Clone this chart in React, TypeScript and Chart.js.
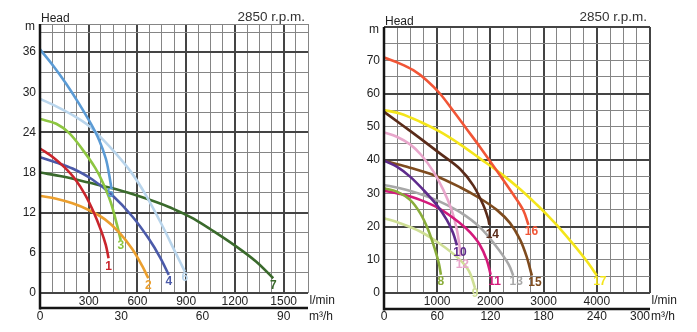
import React, { useEffect, useRef } from 'react';
import { Chart, registerables } from 'chart.js';

Chart.register(...registerables);

const FONT = '"Liberation Sans", Arial, sans-serif';

// ===================== LEFT CHART =====================
const LEFT_Q_MAX = 1650; // l/min
const LEFT_Q_STEP = 75;
const LEFT_Q_MAJOR = 300;
const LEFT_H_MAX = 40.2; // m
const LEFT_H_STEP = 3;
const LEFT_H_MAJOR = 12;
const LEFT_Q_LABELS = [300, 600, 900, 1200, 1500];
const LEFT_H_LABELS = [0, 6, 12, 18, 24, 30, 36];
const LEFT_M3H_MAX = 99;
const LEFT_M3H_LABELS = [0, 30, 60, 90];

const C1_Q = [0, 80, 150, 220, 280, 330, 375, 405, 422];
const C1_H = [21.6, 20.3, 18.8, 16.9, 14.6, 12.1, 9.4, 7.2, 5.2];
const C2_Q = [0, 100, 200, 300, 400, 490, 570, 630, 667];
const C2_H = [14.5, 14.1, 13.4, 12.4, 11.0, 9.0, 6.5, 4.0, 2.2];
const C3_Q = [0, 100, 180, 260, 340, 385, 435, 475, 497];
const C3_H = [26.0, 25.3, 23.9, 21.5, 18.7, 16.6, 13.6, 10.1, 7.9];
const C4_Q = [0, 100, 200, 320, 445, 570, 670, 740, 793];
const C4_H = [20.3, 19.5, 18.6, 17.0, 14.6, 11.4, 8.1, 5.3, 2.7];
const C5_Q = [0, 80, 160, 240, 313, 365, 405, 425, 440];
const C5_H = [36.4, 34.0, 31.3, 28.3, 25.3, 22.8, 20.1, 17.8, 15.6];
const C6_Q = [0, 100, 200, 300, 385, 465, 560, 650, 750, 835, 892];
const C6_H = [29.0, 27.9, 26.6, 25.0, 23.0, 20.9, 18.1, 14.7, 10.2, 6.0, 3.2];
const C7_Q = [0, 140, 300, 470, 630, 790, 880, 960, 1045, 1205, 1330, 1436];
const C7_H = [18.0, 17.4, 16.5, 15.5, 14.3, 12.9, 11.9, 10.9, 9.6, 7.0, 4.7, 2.2];

const LEFT_NAMES = ['1', '2', '3', '4', '5', '6', '7'];
const LEFT_COLORS = ['#c9252c', '#eb9f2e', '#8dc641', '#4b5aa9', '#5b9bd5', '#b9d5ec', '#3a6a2c'];

// ===================== RIGHT CHART =====================
const RIGHT_Q_MAX = 5000;
const RIGHT_Q_STEP = 250;
const RIGHT_Q_MAJOR = 1000;
const RIGHT_H_MAX = 80;
const RIGHT_H_STEP = 5;
const RIGHT_H_MAJOR = 20;
const RIGHT_Q_LABELS = [1000, 2000, 3000, 4000];
const RIGHT_H_LABELS = [0, 10, 20, 30, 40, 50, 60, 70];
const RIGHT_M3H_MAX = 300;
const RIGHT_M3H_LABELS = [0, 60, 120, 180, 240, 300];

const C8_Q = [0, 240, 490, 680, 830, 960, 1030, 1070];
const C8_H = [31.5, 30.5, 28.0, 24.0, 19.0, 13.0, 9.0, 5.5];
const C9_Q = [0, 300, 680, 1050, 1400, 1600, 1711];
const C9_H = [22.5, 21.0, 18.5, 14.8, 10.4, 6.5, 1.5];
const C10_Q = [0, 240, 490, 740, 990, 1180, 1300, 1370];
const C10_H = [39.8, 38.0, 35.0, 31.0, 26.5, 22.0, 18.0, 14.3];
const C11_Q = [0, 300, 680, 1050, 1430, 1620, 1800, 1930, 2005];
const C11_H = [30.8, 29.8, 28.0, 25.3, 21.0, 18.2, 14.5, 10.0, 5.5];
const C12_Q = [0, 240, 490, 700, 930, 1115, 1270, 1370, 1420, 1435];
const C12_H = [48.3, 47.0, 44.7, 41.5, 36.5, 31.0, 25.0, 19.0, 14.0, 11.0];
const C13_Q = [0, 300, 680, 1050, 1430, 1800, 2100, 2340, 2430];
const C13_H = [32.5, 31.5, 29.8, 27.5, 24.3, 19.8, 14.2, 8.7, 5.2];
const C14_Q = [0, 300, 680, 1050, 1430, 1680, 1870, 1960, 1980];
const C14_H = [54.5, 51.0, 46.5, 42.0, 37.3, 32.3, 26.3, 22.2, 20.5];
const C15_Q = [0, 430, 930, 1430, 1800, 2120, 2370, 2560, 2680, 2780];
const C15_H = [39.8, 38.0, 35.5, 31.8, 28.5, 25.0, 21.0, 16.0, 11.0, 5.2];
const C16_Q = [0, 300, 550, 800, 1050, 1300, 1550, 1800, 2180, 2430, 2620, 2715];
const C16_H = [70.8, 69.0, 67.0, 64.0, 60.0, 54.8, 49.4, 44.0, 35.4, 29.6, 24.8, 20.5];
const C17_Q = [0, 300, 680, 1050, 1430, 1800, 2200, 2560, 2870, 3120, 3250, 3560, 3810, 4000];
const C17_H = [55.0, 54.0, 51.5, 48.5, 44.7, 40.5, 35.9, 31.2, 26.6, 22.6, 20.4, 14.6, 9.6, 5.3];

const RIGHT_NAMES = ['8', '9', '10', '11', '12', '13', '14', '15', '16', '17'];
const RIGHT_COLORS = ['#8aad3b', '#cfdf95', '#5e2b8c', '#d41a7b', '#e8a6cb', '#a8a8a8', '#5a2b19', '#7e4b1e', '#f15536', '#f4e51a'];

type Series = { name: string; q: number[]; h: number[]; color: string; dx: number; dy: number };

type Spec = {
  width: number;
  height: number;
  padTop: number;
  padRight: number;
  padBottom: number;
  yWidth: number;
  qMax: number; qStep: number; qMajor: number; qLabels: number[];
  hMax: number; hStep: number; hMajor: number; hLabels: number[];
  m3hMax: number; m3hLabels: number[];
  axisGap: number;
  series: Series[];
};

const LEFT_SPEC: Spec = {
  width: 345, height: 332, padTop: 24, padRight: 37, padBottom: 24, yWidth: 40,
  qMax: LEFT_Q_MAX, qStep: LEFT_Q_STEP, qMajor: LEFT_Q_MAJOR, qLabels: LEFT_Q_LABELS,
  hMax: LEFT_H_MAX, hStep: LEFT_H_STEP, hMajor: LEFT_H_MAJOR, hLabels: LEFT_H_LABELS,
  m3hMax: LEFT_M3H_MAX, m3hLabels: LEFT_M3H_LABELS,
  axisGap: 15,
  series: [
    { name: LEFT_NAMES[0], q: C1_Q, h: C1_H, color: LEFT_COLORS[0], dx: 0, dy: 8 },
    { name: LEFT_NAMES[1], q: C2_Q, h: C2_H, color: LEFT_COLORS[1], dx: 0, dy: 7 },
    { name: LEFT_NAMES[2], q: C3_Q, h: C3_H, color: LEFT_COLORS[2], dx: 0, dy: 6 },
    { name: LEFT_NAMES[3], q: C4_Q, h: C4_H, color: LEFT_COLORS[3], dx: 0, dy: 7 },
    { name: LEFT_NAMES[4], q: C5_Q, h: C5_H, color: LEFT_COLORS[4], dx: -1, dy: 5 },
    { name: LEFT_NAMES[5], q: C6_Q, h: C6_H, color: LEFT_COLORS[5], dx: 0, dy: 6 },
    { name: LEFT_NAMES[6], q: C7_Q, h: C7_H, color: LEFT_COLORS[6], dx: 0, dy: 7 },
  ],
};

const RIGHT_SPEC: Spec = {
  width: 352, height: 332, padTop: 27, padRight: 47, padBottom: 24, yWidth: 39,
  qMax: RIGHT_Q_MAX, qStep: RIGHT_Q_STEP, qMajor: RIGHT_Q_MAJOR, qLabels: RIGHT_Q_LABELS,
  hMax: RIGHT_H_MAX, hStep: RIGHT_H_STEP, hMajor: RIGHT_H_MAJOR, hLabels: RIGHT_H_LABELS,
  m3hMax: RIGHT_M3H_MAX, m3hLabels: RIGHT_M3H_LABELS,
  axisGap: 16,
  series: [
    { name: RIGHT_NAMES[0], q: C8_Q, h: C8_H, color: RIGHT_COLORS[0], dx: 0, dy: 7 },
    { name: RIGHT_NAMES[1], q: C9_Q, h: C9_H, color: RIGHT_COLORS[1], dx: 0, dy: 6 },
    { name: RIGHT_NAMES[2], q: C10_Q, h: C10_H, color: RIGHT_COLORS[2], dx: 3, dy: 7 },
    { name: RIGHT_NAMES[3], q: C11_Q, h: C11_H, color: RIGHT_COLORS[3], dx: 4, dy: 7 },
    { name: RIGHT_NAMES[4], q: C12_Q, h: C12_H, color: RIGHT_COLORS[4], dx: 2, dy: 8 },
    { name: RIGHT_NAMES[5], q: C13_Q, h: C13_H, color: RIGHT_COLORS[5], dx: 3, dy: 6 },
    { name: RIGHT_NAMES[6], q: C14_Q, h: C14_H, color: RIGHT_COLORS[6], dx: 3, dy: 10 },
    { name: RIGHT_NAMES[7], q: C15_Q, h: C15_H, color: RIGHT_COLORS[7], dx: 3, dy: 7 },
    { name: RIGHT_NAMES[8], q: C16_Q, h: C16_H, color: RIGHT_COLORS[8], dx: 3, dy: 7 },
    { name: RIGHT_NAMES[9], q: C17_Q, h: C17_H, color: RIGHT_COLORS[9], dx: 3, dy: 6 },
  ],
};

function gridValues(step: number, max: number): number[] {
  const out: number[] = [];
  for (let i = 0; i * step <= max + 1e-9; i++) out.push(Math.round(i * step * 1000) / 1000);
  if (out[out.length - 1] < max - 1e-6) out.push(max);
  return out;
}

function isMajor(v: number, major: number) {
  const r = Math.abs(v / major - Math.round(v / major));
  return r < 1e-6;
}

function makeDecor(spec: Spec) {
  return {
    id: 'decor',
    afterDraw(chart: any) {
      const { ctx, chartArea: a } = chart;
      const x2 = chart.scales.x2;
      ctx.save();
      // axes lines
      ctx.strokeStyle = '#151515';
      ctx.lineWidth = 2.5;
      ctx.beginPath();
      ctx.moveTo(a.left, a.top);
      ctx.lineTo(a.left, a.bottom + spec.axisGap + 1.5);
      ctx.stroke();
      ctx.beginPath();
      ctx.moveTo(a.left, a.bottom + spec.axisGap);
      ctx.lineTo(a.right, a.bottom + spec.axisGap);
      ctx.stroke();

      ctx.fillStyle = '#222';
      ctx.textBaseline = 'middle';
      ctx.font = `12px ${FONT}`;
      // m3/h labels
      for (const v of spec.m3hLabels) {
        let x = x2.getPixelForValue(v);
        const t = String(v);
        const w = ctx.measureText(t).width;
        if (x + w / 2 > a.right) {
          ctx.textAlign = 'right';
          x = a.right;
        } else {
          ctx.textAlign = 'center';
        }
        ctx.fillText(t, x, a.bottom + 23.5);
      }
      ctx.textAlign = 'left';
      ctx.fillText('l/min', a.right + 1.5, a.bottom + 7.5);
      ctx.fillText('m³/h', a.right + 1, a.bottom + 23.5);
      ctx.fillText('Head', a.left + 1, a.top - 5);
      ctx.textAlign = 'right';
      ctx.fillText('m', a.left - 5, a.top + 3);
      ctx.font = `13.5px ${FONT}`;
      ctx.fillStyle = '#333';
      ctx.fillText('2850 r.p.m.', a.right - 3, 17);

      // curve labels
      ctx.font = `bold 12px ${FONT}`;
      ctx.textAlign = 'center';
      spec.series.forEach((s, i) => {
        const meta = chart.getDatasetMeta(i);
        const last = meta.data[meta.data.length - 1];
        if (!last) return;
        ctx.fillStyle = s.color;
        ctx.fillText(s.name, last.x + s.dx, last.y + s.dy);
      });
      ctx.restore();
    },
  };
}

function buildConfig(spec: Spec): any {
  const xTicks = gridValues(spec.qStep, spec.qMax);
  const yTicks = gridValues(spec.hStep, spec.hMax);
  return {
    type: 'line',
    data: {
      datasets: spec.series.map((s) => ({
        label: s.name,
        data: s.q.map((q, i) => ({ x: q, y: s.h[i] })),
        borderColor: s.color,
        backgroundColor: s.color,
        borderWidth: 2.6,
        pointRadius: 0,
        pointHoverRadius: 0,
        fill: false,
        tension: 0.35,
        xAxisID: 'x',
        yAxisID: 'y',
      })),
    },
    options: {
      responsive: false,
      maintainAspectRatio: false,
      animation: false,
      events: [],
      layout: { padding: { left: 0, top: spec.padTop, right: spec.padRight, bottom: spec.padBottom } },
      plugins: { legend: { display: false }, tooltip: { enabled: false }, title: { display: false } },
      scales: {
        x: {
          type: 'linear',
          position: 'bottom',
          min: 0,
          max: spec.qMax,
          afterBuildTicks: (sc: any) => {
            sc.ticks = xTicks.map((v) => ({ value: v }));
          },
          afterFit: (sc: any) => {
            sc.height = 15;
          },
          grid: {
            drawTicks: false,
            color: (c: any) => (c.tick && isMajor(c.tick.value, spec.qMajor) ? '#444' : '#858585'),
            lineWidth: (c: any) => (c.tick && isMajor(c.tick.value, spec.qMajor) ? 2 : 1),
          },
          border: { display: false },
          ticks: {
            autoSkip: false,
            maxRotation: 0,
            minRotation: 0,
            padding: 1,
            color: '#222',
            font: { family: FONT, size: 12 },
            callback: (v: any) => (spec.qLabels.includes(Number(v)) ? String(v) : ''),
          },
        },
        x2: {
          type: 'linear',
          position: 'bottom',
          display: false,
          min: 0,
          max: spec.m3hMax,
          afterFit: (sc: any) => {
            sc.height = 0;
          },
          grid: { display: false },
          ticks: { display: false },
          border: { display: false },
        },
        y: {
          type: 'linear',
          position: 'left',
          min: 0,
          max: spec.hMax,
          afterBuildTicks: (sc: any) => {
            sc.ticks = yTicks.map((v) => ({ value: v }));
          },
          afterFit: (sc: any) => {
            sc.width = spec.yWidth;
          },
          grid: {
            drawTicks: false,
            color: (c: any) => (c.tick && isMajor(c.tick.value, spec.hMajor) ? '#444' : '#858585'),
            lineWidth: (c: any) => (c.tick && isMajor(c.tick.value, spec.hMajor) ? 2 : 1),
          },
          border: { display: false },
          ticks: {
            autoSkip: false,
            padding: 4,
            color: '#222',
            font: { family: FONT, size: 12 },
            callback: (v: any) => (spec.hLabels.includes(Number(v)) ? String(v) : ''),
          },
        },
      },
    },
    plugins: [makeDecor(spec)],
  };
}

function PumpChart({ spec, left }: { spec: Spec; left: number }) {
  const ref = useRef<HTMLCanvasElement>(null);
  useEffect(() => {
    const canvas = ref.current;
    if (!canvas) return;
    const chart = new Chart(canvas, buildConfig(spec));
    return () => chart.destroy();
  }, [spec]);
  return (
    <canvas
      ref={ref}
      width={spec.width}
      height={spec.height}
      style={{ position: 'absolute', left, top: 0, width: spec.width, height: spec.height }}
    />
  );
}

export default function App() {
  return (
    <div style={{ position: 'absolute', left: 0, top: 0, width: 697, height: 332, background: '#fff', overflow: 'hidden' }}>
      <PumpChart spec={LEFT_SPEC} left={0} />
      <PumpChart spec={RIGHT_SPEC} left={345} />
    </div>
  );
}
